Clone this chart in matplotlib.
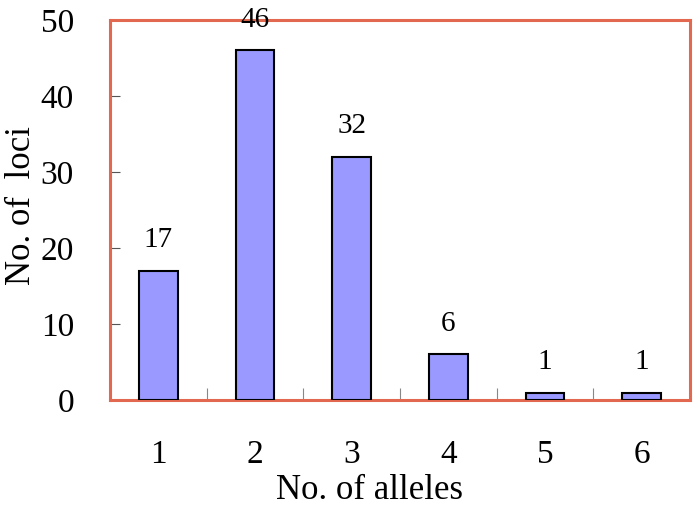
import matplotlib
matplotlib.use("Agg")
import matplotlib.pyplot as plt
import numpy as np

alleles = ["1", "2", "3", "4", "5", "6"]
loci = [17, 46, 32, 6, 1, 1]

plt.rcParams["font.family"] = ["Liberation Serif", "DejaVu Serif"]

fig = plt.figure(figsize=(6.97, 5.11), dpi=100)
ax = fig.add_axes([0.158, 0.217, 0.832, 0.744])

x = np.arange(1, len(loci) + 1)
ax.bar(x, loci, width=0.4, color="#9999FF", edgecolor="black", linewidth=1.5, zorder=3)

# value labels above each bar
for xi, v in zip(x, loci):
    ax.annotate(str(v), (xi, v), xytext=(0, 22), textcoords="offset points",
                ha="center", va="center", fontsize=21)

ax.set_xlim(0.5, len(loci) + 0.5)
ax.set_ylim(0, 50)
ax.set_yticks(range(0, 51, 10))
ax.set_xticks(x)
ax.set_xticklabels(alleles)
ax.set_xticks(np.arange(1.5, len(loci), 1.0), minor=True)

ax.tick_params(axis="y", direction="in", length=7, width=0.8, color="#555555",
               labelsize=24, pad=26)
ax.tick_params(axis="x", which="major", length=0, labelsize=24, pad=28)
ax.tick_params(axis="x", which="minor", direction="in", length=9, width=0.8,
               color="#888888")

for s in ax.spines.values():
    s.set_color("#E2694F")
    s.set_linewidth(2.2)

ax.set_xlabel("No. of alleles", fontsize=25, va="center")
ax.xaxis.set_label_coords(0.448, -0.237)
ax.set_ylabel("No. of  loci", fontsize=25, va="center")
ax.yaxis.set_label_coords(-0.153, 0.513)

fig.savefig("out.png", dpi=100)
